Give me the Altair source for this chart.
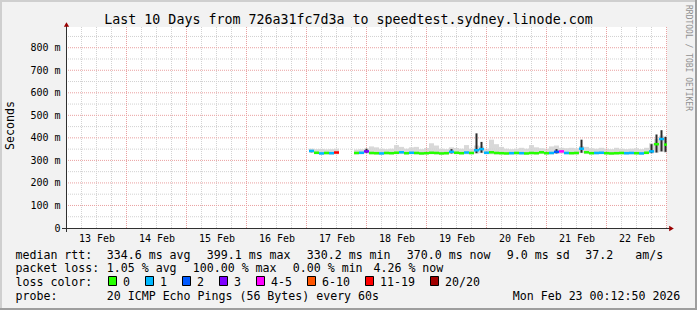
import altair as alt
import pandas as pd

# ---------------- data ----------------
day_labels = ["13 Feb", "14 Feb", "15 Feb", "16 Feb", "17 Feb",
              "18 Feb", "19 Feb", "20 Feb", "21 Feb", "22 Feb"]

# 2-hour bins, start given in hours since 13 Feb 00:00 (first bin: 17 Feb 01:00)
bin_start_h = [97 + 2 * k for k in range(72)]

median_ms = [342, 334, 331, 333, 332, 335, None, None, None,
             333, 334, 340, 333, 332, 331, 333, 332, 334, 336,
             332, 334, 333, 331, 332, 334, 333, 331, 332, 338,
             334, 332, 335, 333, 345, 350, 334, 336, 333, 332,
             331, 332, 333, 332, 331, 333, 332, 336, 332, 333,
             338, 340, 333, 332, 333, 352, 336, 332, 333, 334,
             332, 331, 332, 333, 332, 333, 332, 331, 334, 340,
             372, 395, 370]

smoke_lo_ms = [334, 327, 325, 326, 325, 327, None, None, None,
               326, 327, 330, 326, 325, 325, 326, 326, 327, 328,
               326, 327, 326, 325, 326, 327, 326, 325, 326, 329,
               327, 326, 327, 326, 330, 332, 327, 327, 326, 326,
               325, 326, 326, 326, 325, 326, 326, 328, 326, 326,
               329, 330, 326, 326, 326, 332, 328, 326, 326, 327,
               326, 325, 326, 326, 325, 326, 326, 325, 327, 331,
               334, 338, 334]

smoke_hi_ms = [352, 350, 351, 349, 350, 352, None, None, None,
               348, 350, 352, 362, 358, 352, 350, 352, 368, 360,
               352, 358, 360, 350, 355, 376, 366, 352, 350, 358,
               355, 352, 368, 352, 366, 362, 352, 392, 372, 360,
               352, 350, 352, 356, 352, 368, 358, 354, 352, 362,
               366, 356, 354, 356, 354, 364, 360, 354, 352, 356,
               352, 350, 356, 352, 350, 352, 354, 350, 356, 376,
               395, 410, 400]

loss_cat = ["1", "0", "1", "0", "1", "11-19", None, None, None,
            "0", "1", "3", "0", "0", "1", "0", "0", "0", "1",
            "0", "1", "0", "0", "0", "0", "0", "0", "0", "1",
            "0", "0", "1", "0", "1", "1", "1", "0", "0", "0",
            "0", "1", "0", "1", "0", "0", "0", "0", "0", "1",
            "2", "4-5", "1", "0", "0", "1", "0", "0", "1", "1",
            "0", "0", "0", "0", "1", "1", "0", "1", "0", "1",
            "0", "1", "0"]

dark_lo_ms = [336, None, None, None, None, None, None, None, None,
              None, None, 334, None, None, None, None, None, None, None,
              None, None, None, None, None, None, None, None, None, 331,
              None, None, None, None, 332, 334, None, None, None, None,
              None, None, None, None, None, None, None, None, None, None,
              331, None, None, None, None, 334, None, None, None, None,
              None, None, None, None, None, None, None, None, None, 332,
              335, 340, 338]

dark_hi_ms = [346, None, None, None, None, None, None, None, None,
              None, None, 352, None, None, None, None, None, None, None,
              None, None, None, None, None, None, None, None, None, 350,
              None, None, None, None, 420, 382, None, None, None, None,
              None, None, None, None, None, None, None, None, None, None,
              350, None, None, None, None, 392, None, None, None, None,
              None, None, None, None, None, None, None, None, None, 372,
              415, 434, 405]

loss_levels = ["0", "1", "2", "3", "4-5", "6-10", "11-19", "20/20"]
loss_colors = ["#26ff00", "#00b8ff", "#0059ff", "#7e00ff",
               "#ff00ff", "#ff5500", "#ff0000", "#a10000"]

title_text = "Last 10 Days from 726a31fc7d3a to speedtest.sydney.linode.com"
rtt_stats = ["median rtt:", "334.6 ms avg", "399.1 ms max", "330.2 ms min",
             "370.0 ms now", "9.0 ms sd", "37.2", "am/s"]
loss_stats = ["packet loss:", "1.05 % avg", "100.00 % max", "0.00 % min", "4.26 % now"]
probe_text = ["probe:", "20 ICMP Echo Pings (56 Bytes) every 60s", "Mon Feb 23 00:12:50 2026"]

# ---------------- layout ----------------
PL, PT, W, H = 67, 27, 600, 201
X0, X1 = 0.2, 240.2
Y0, Y1 = 0, 892
MONO = "DejaVu Sans Mono"
LEG = 11.6

xs = alt.Scale(domain=[X0, X1], nice=False, zero=False)
ys = alt.Scale(domain=[Y0, Y1], nice=False, zero=False)

df = pd.DataFrame({"start": bin_start_h, "median": median_ms, "lo": smoke_lo_ms,
                   "hi": smoke_hi_ms, "loss": loss_cat,
                   "dlo": dark_lo_ms, "dhi": dark_hi_ms})
df["end"] = df["start"].add(2).clip(upper=X1)
df["mid"] = (df["start"] + df["end"]) / 2
data_df = df.dropna(subset=["median"]).copy()
dark_df = df.dropna(subset=["dlo"]).copy()

vminor = pd.DataFrame({"h": [h for h in range(6, 241, 6) if h % 24]})
vmajor = pd.DataFrame({"h": list(range(24, 241, 24))})
hminor = pd.DataFrame({"v": list(range(50, 851, 100))})
hmajor = pd.DataFrame({"v": list(range(100, 801, 100))})

one = pd.DataFrame({"a": [0]})

MINOR_C = "#d2d2d2"
MAJOR_C = "#eaa0a0"

label_array = "[" + ",".join("'" + d + "'" for d in day_labels) + "]"

x_axis = alt.Axis(values=[12 + 24 * i for i in range(len(day_labels))],
                  labelExpr=label_array + "[floor(datum.value / 24)]",
                  grid=False, ticks=False, tickSize=0, domain=False, title=None,
                  labelFont=MONO, labelFontSize=10, labelColor="#000000",
                  labelPadding=13.5, labelBaseline="alphabetic",
                  labelFlush=False, labelOverlap=False, labelBound=False)
y_axis = alt.Axis(values=list(range(0, 801, 100)),
                  labelExpr="datum.value == 0 ? '0\u00a0\u00a0' : datum.value + ' m'",
                  grid=False, ticks=False, tickSize=0, domain=False, title=None,
                  labelFont=MONO, labelFontSize=10, labelColor="#000000",
                  labelPadding=7, labelFlush=False, labelOverlap=False)


def vrule(d, color):
    return alt.Chart(d).mark_rule(color=color, strokeWidth=1, strokeDash=[1, 1]).encode(
        x=alt.X("h:Q", scale=xs, axis=x_axis))


def hrule(d, color):
    return alt.Chart(d).mark_rule(color=color, strokeWidth=1, strokeDash=[1, 1]).encode(
        y=alt.Y("v:Q", scale=ys, axis=y_axis))


smoke = alt.Chart(data_df).mark_rect(color="#d9d9d9").encode(
    x=alt.X("start:Q", scale=xs, axis=x_axis),
    x2="end:Q",
    y=alt.Y("lo:Q", scale=ys, axis=y_axis),
    y2="hi:Q")

dark = alt.Chart(dark_df).mark_rule(color="#2b2b2b", strokeWidth=2).encode(
    x=alt.X("mid:Q", scale=xs, axis=x_axis),
    y=alt.Y("dlo:Q", scale=ys, axis=y_axis),
    y2="dhi:Q")

median = alt.Chart(data_df).mark_rule(strokeWidth=2.5).encode(
    x=alt.X("start:Q", scale=xs, axis=x_axis),
    x2="end:Q",
    y=alt.Y("median:Q", scale=ys, axis=y_axis),
    color=alt.Color("loss:N", scale=alt.Scale(domain=loss_levels, range=loss_colors),
                    legend=None))


def txt(s, xa, ya, size=LEG, align="left", angle=0, color="#000000", baseline="alphabetic"):
    return alt.Chart(one).mark_text(text=s, font=MONO, fontSize=size, align=align,
                                    baseline=baseline, angle=angle, color=color).encode(
        x=alt.value(xa - PL), y=alt.value(ya - PT))


def rect(x1, x2, y1, y2, fill, stroke=None):
    kw = {"fill": fill}
    if stroke:
        kw.update(stroke=stroke, strokeWidth=1)
    return alt.Chart(one).mark_rect(**kw).encode(
        x=alt.value(x1 - PL), x2=alt.value(x2 - PL), y=alt.value(y1 - PT), y2=alt.value(y2 - PT))


# axis lines + arrows
x_axis_line = alt.Chart(one).mark_rule(color="#303030", strokeWidth=1).encode(
    x=alt.value(62 - PL), x2=alt.value(671 - PL), y=alt.value(228.5 - PT))
y_axis_line = alt.Chart(one).mark_rule(color="#303030", strokeWidth=1).encode(
    x=alt.value(66.5 - PL), y=alt.value(23 - PT), y2=alt.value(232 - PT))
arrow_up = alt.Chart(one).mark_point(shape="triangle-up", filled=True, size=28,
                                     color="#9a0000", opacity=1).encode(
    x=alt.value(66.5 - PL), y=alt.value(24.5 - PT))
arrow_right = alt.Chart(one).mark_point(shape="triangle-right", filled=True, size=28,
                                        color="#9a0000", opacity=1).encode(
    x=alt.value(671.5 - PL), y=alt.value(228.5 - PT))

# frame
frame = [rect(0, 697, 0, 2, "#cfcfcf"), rect(0, 2, 0, 310, "#cfcfcf"),
         rect(695, 697, 0, 310, "#9e9e9e"), rect(0, 697, 308, 310, "#9e9e9e")]

texts = [
    txt(title_text, 348.5, 24, size=13.3, align="center"),
    txt("Seconds", 14, 125.5, align="center", angle=270),
    txt("RRDTOOL / TOBI OETIKER", 687.5, 5, size=8, angle=90, color="#909090",
        baseline="middle"),
]
rtt_x = [15.5, 106.8, 206.8, 306.8, 406.8, 506.8, 585.3, 635.2]
for s, xa in zip(rtt_stats, rtt_x):
    texts.append(txt(s, xa, 258.5))
loss_x = [15.5, 106.8, 192.8, 292.8, 373.5]
for s, xa in zip(loss_stats, loss_x):
    texts.append(txt(s, xa, 272))
texts.append(txt("loss color:", 15.5, 286))
box_x = [108.5, 145.5, 182.5, 219.5, 256.5, 307.5, 365.5, 430.5]
boxes = []
for lvl, col, bx in zip(loss_levels, loss_colors, box_x):
    boxes.append(rect(bx, bx + 8, 276.5, 285.5, col, stroke="#000000"))
    texts.append(txt(lvl, bx + 14.5, 286))
probe_x = [15.5, 106.8, 512.8]
for s, xa in zip(probe_text, probe_x):
    texts.append(txt(s, xa, 300))

layers = ([smoke, hrule(hminor, MINOR_C), vrule(vminor, MINOR_C),
           hrule(hmajor, MAJOR_C), vrule(vmajor, MAJOR_C),
           dark, median, x_axis_line, y_axis_line, arrow_up, arrow_right]
          + frame + boxes + texts)

chart = alt.layer(*layers).properties(
    width=W, height=H,
    padding={"left": PL, "top": PT, "right": 697 - PL - W, "bottom": 310 - PT - H},
    autosize=alt.AutoSizeParams(type="none"),
    background="#f2f2f2",
).configure_view(strokeWidth=0, fill="white")

chart.save("out.html", embed_options={"renderer": "svg", "actions": False})
